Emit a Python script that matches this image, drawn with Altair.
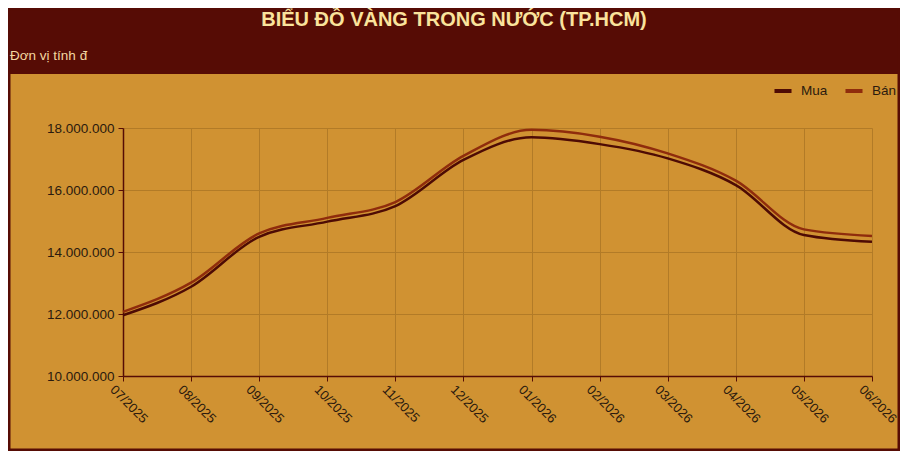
import altair as alt
import pandas as pd

# ---- data ----
months = ["07/2025", "08/2025", "09/2025", "10/2025", "11/2025", "12/2025",
          "01/2026", "02/2026", "03/2026", "04/2026", "05/2026", "06/2026"]
mua = [11960000, 12880000, 14490000, 14980000, 15480000, 16970000,
       17700000, 17480000, 17020000, 16160000, 14550000, 14330000]
ban = [12070000, 13010000, 14600000, 15100000, 15610000, 17100000,
       17940000, 17720000, 17180000, 16300000, 14730000, 14520000]
series_names = ["Mua", "Bán"]
y_ticks = [10000000, 12000000, 14000000, 16000000, 18000000]
title_text = "BIỂU ĐỒ VÀNG TRONG NƯỚC (TP.HCM)"
subtitle_text = "Đơn vị tính đ"

# ---- styles ----
MAROON = "#560c05"
GOLD = "#d09232"
MUA_C = "#4e0b04"
BAN_C = "#8f2c0c"
GRID_C = "#b27b27"
TEXT_C = "#2b1a0e"
TITLE_C = "#fae39c"
SUB_C = "#f4d8a0"
FONT = "Liberation Sans"

rows = []
for m, a, b in zip(months, mua, ban):
    rows.append({"month": m, "series": series_names[0], "value": a})
    rows.append({"month": m, "series": series_names[1], "value": b})
df = pd.DataFrame(rows)

W, H = 749, 248
PL, PT, PR, PB = 115, 120, 28, 75

one = alt.Data(values=[{"k": 1}])

# maroon header band
band = alt.Chart(one).mark_rect(color=MAROON).encode(
    x=alt.value(-PL), x2=alt.value(W + PR),
    y=alt.value(-PT), y2=alt.value(-54),
)

# outer frame
frame = alt.Chart(one).mark_rect(fillOpacity=0, stroke=MAROON, strokeWidth=5).encode(
    x=alt.value(-PL), x2=alt.value(W + PR),
    y=alt.value(-PT), y2=alt.value(H + PB),
)

sub = alt.Chart(one).mark_text(
    text=subtitle_text, align="left", baseline="middle",
    font=FONT, fontSize=13.5, color=SUB_C,
).encode(x=alt.value(-113), y=alt.value(-72))

lines = alt.Chart(df).mark_line(interpolate="monotone", strokeWidth=2.5).encode(
    x=alt.X("month:O", sort=months, title=None,
            scale=alt.Scale(type="point", padding=0),
            axis=alt.Axis(labelAngle=45, labelAlign="left", labelBaseline="top",
                          labelOffset=-7,
                          grid=True, gridColor=GRID_C, gridWidth=1,
                          domainColor=MAROON, domainWidth=1.5,
                          tickColor=MAROON, tickSize=5, labelPadding=2,
                          labelFont=FONT, labelFontSize=13, labelColor=TEXT_C)),
    y=alt.Y("value:Q", title=None,
            scale=alt.Scale(domain=[10000000, 18000000], nice=False, zero=False),
            axis=alt.Axis(values=y_ticks, grid=True, gridColor=GRID_C, gridWidth=1,
                          domainColor=MAROON, domainWidth=1.5,
                          tickColor=MAROON, tickSize=5, labelPadding=4,
                          labelFont=FONT, labelFontSize=13.5, labelColor=TEXT_C,
                          labelExpr="replace(format(datum.value, ','), /,/g, '.')")),
    color=alt.Color("series:N", sort=series_names,
                    scale=alt.Scale(domain=series_names, range=[MUA_C, BAN_C]),
                    legend=alt.Legend(title=None, orient="none", direction="horizontal",
                                      legendX=649, legendY=-48,
                                      symbolType="stroke", symbolStrokeWidth=4,
                                      symbolSize=290, labelOffset=7, columnPadding=9,
                                      labelFont=FONT, labelFontSize=13.5,
                                      labelColor=TEXT_C, padding=0)),
)

chart = alt.layer(band, frame, sub, lines).properties(
    width=W, height=H,
    padding={"left": PL, "top": PT, "right": PR, "bottom": PB},
    autosize=alt.AutoSizeParams(type="none"),
    background=GOLD,
    title=alt.Title(title_text, anchor="middle", frame="bounds",
                    font=FONT, fontSize=20, fontWeight="bold",
                    color=TITLE_C, offset=-24),
).configure_view(strokeOpacity=0)

chart.save("out.html", embed_options={"renderer": "svg", "actions": False})
